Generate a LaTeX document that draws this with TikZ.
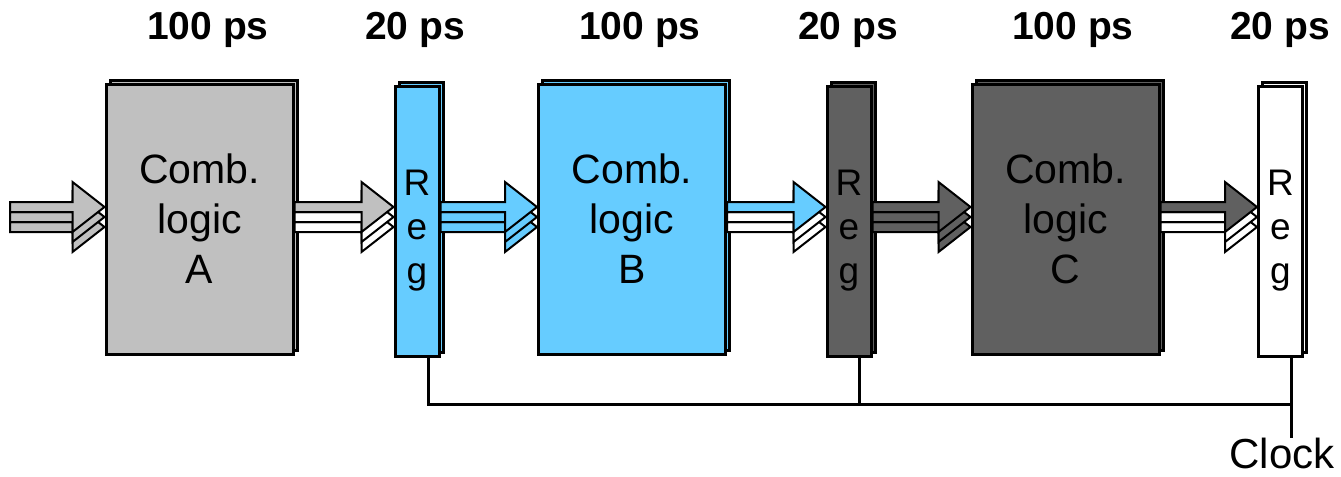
\documentclass[tikz,border=0pt]{standalone}
\usepackage{fontspec}
\setmainfont{Liberation Sans}
\usepackage{xcolor}
\definecolor{stagegray}{RGB}{192,192,192}
\definecolor{stageblue}{RGB}{102,204,255}
\definecolor{stagedark}{RGB}{96,96,96}
\usepackage{tikz}
\usetikzlibrary{positioning,calc,shadows}
\newcommand{\busarrow}[4]{%
  \foreach \dy/\col in {20/#4,10/#4,0/#3}{%
    \draw[line width=1pt,fill=\col]
      let \p1=($(#1)+(0,\dy)$), \p2=($(#2)+(0,\dy)$) in
      (\x1,\y1+2.5pt) -- (\x2-16pt,\y1+2.5pt) -- (\x2-16pt,\y1+12.5pt) -- (\x2,\y1)
      -- (\x2-16pt,\y1-12.5pt) -- (\x2-16pt,\y1-2.5pt) -- (\x1,\y1-2.5pt) -- cycle;}}

\begin{document}
\begin{tikzpicture}[x=0.5pt,y=-0.5pt,
  logic/.style={draw,line width=1.5pt,minimum width=93.5pt,minimum height=135pt,
    align=center,font=\fontsize{20.5}{25}\selectfont,
    copy shadow={shadow xshift=2pt,shadow yshift=2pt}},
  register/.style={draw,line width=1.5pt,minimum width=22pt,minimum height=135pt,
    align=center,font=\fontsize{18.5}{22}\selectfont,
    copy shadow={shadow xshift=2pt,shadow yshift=2pt}},
  delay/.style={font=\bfseries\fontsize{19.5}{24}\selectfont},
  clkline/.style={line width=1.5pt}]
  \useasboundingbox (0,0) rectangle (1341,477);
  \coordinate (bus) at (0,207);
  \coordinate (inp) at (10,207);
  \coordinate (tap) at (0,404);
  % stages
  \node[logic,fill=stagegray] (combA) at (199.5,219) {Comb.\\logic\\A};
  \node[register,fill=stageblue] (regA) at (417,221) {{}\\R\\e\\g};
  \node[logic,fill=stageblue] (combB) at (632,219) {Comb.\\logic\\B};
  \node[register,fill=stagedark] (regB) at (849,221) {{}\\R\\e\\g};
  \node[logic,fill=stagedark] (combC) at (1065.5,219) {Comb.\\logic\\C};
  \node[register,fill=white] (regC) at (1280.5,221) {{}\\R\\e\\g};
  % delays
  \node[delay] (dA) at (208,30) {100 ps};
  \node[delay] (dRA) at (415,30) {20 ps};
  \node[delay] (dB) at (640,30) {100 ps};
  \node[delay] (dRB) at (848,30) {20 ps};
  \node[delay] (dC) at (1073,30) {100 ps};
  \node[delay] (dRC) at (1280,30) {20 ps};
  % buses
  \busarrow{inp}{combA.west |- bus}{stagegray}{stagegray}
  \busarrow{combA.east |- bus}{regA.west |- bus}{stagegray}{white}
  \busarrow{regA.east |- bus}{combB.west |- bus}{stageblue}{stageblue}
  \busarrow{combB.east |- bus}{regB.west |- bus}{stageblue}{white}
  \busarrow{regB.east |- bus}{combC.west |- bus}{stagedark}{stagedark}
  \busarrow{combC.east |- bus}{regC.west |- bus}{stagedark}{white}
  % clock
  \node[font=\fontsize{21}{24}\selectfont,inner sep=0pt,anchor=north] (clock) at (1282,438) {Clock};
  \draw[clkline] ([xshift=5.5pt]regA.south) -- ([xshift=5.5pt]regA.south |- tap)
    -- ([xshift=5.5pt]regC.south |- tap);
  \draw[clkline] ([xshift=5pt]regB.south) -- ([xshift=5pt]regB.south |- tap);
  \draw[clkline] ([xshift=5.5pt]regC.south) -- ([xshift=5.5pt]regC.south |- clock.north);
\end{tikzpicture}
\end{document}
